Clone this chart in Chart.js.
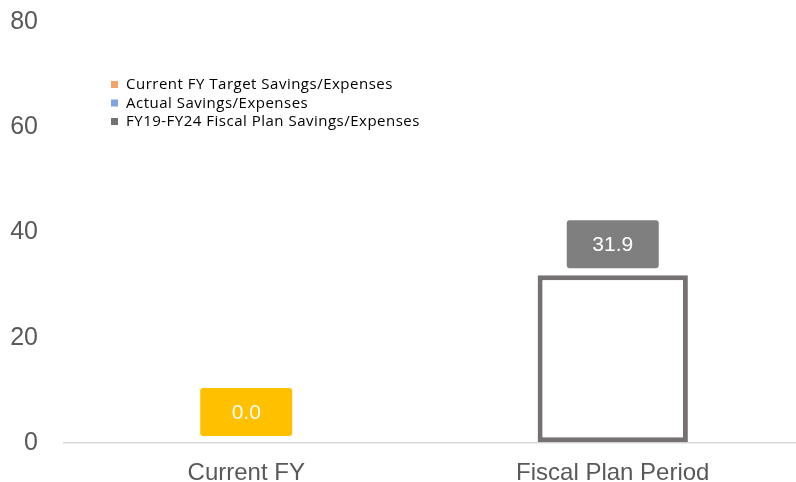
<!DOCTYPE html>
<html>
<head>
<meta charset="utf-8">
<script src="https://cdn.jsdelivr.net/npm/chart.js@4"></script>
<style>
  html, body { margin: 0; padding: 0; background: #fff; }
  #wrap { width: 796px; height: 482px; }
</style>
</head>
<body>
<div id="wrap"><canvas id="savings"></canvas></div>
<script>
const categories = ['Current FY', 'Fiscal Plan Period'];
const targetSavings = [null, null];
const actualSavings = [0.0, null];
const planSavings = [null, 31.9];
const yTicks = [0, 20, 40, 60, 80];

// box colours for the value labels, one per dataset
const labelBoxColors = ['#F4A46A', '#FFC000', '#7F7F7F'];

// legend drawn inside the plot, top left
const legendPlugin = {
    id: 'insideLegend',
    afterDraw(chart) {
        const ctx = chart.ctx;
        ctx.save();
        ctx.font = '15px "Open Sans"';
        ctx.letterSpacing = '0.5px';
        ctx.textBaseline = 'middle';
        chart.data.datasets.forEach((ds, i) => {
            const y = 85 + i * 18.5;
            ctx.fillStyle = ds.legendColor;
            ctx.fillRect(111, y - 4, 7, 7);
            ctx.fillStyle = '#000';
            ctx.fillText(ds.label, 126, y);
        });
        ctx.restore();
    }
};

// value labels in rounded boxes above the bars
const boxLabels = {
    id: 'boxLabels',
    afterDatasetsDraw(chart) {
        const ctx = chart.ctx;
        ctx.save();
        ctx.font = '21px "Liberation Sans", Arial';
        ctx.textAlign = 'center';
        ctx.textBaseline = 'middle';
        chart.data.datasets.forEach((ds, i) => {
            const meta = chart.getDatasetMeta(i);
            meta.data.forEach((bar, j) => {
                const v = ds.data[j];
                if (v === null || v === undefined) return;
                const w = 92, h = 48;
                const bottom = bar.y - 7;
                ctx.fillStyle = labelBoxColors[i];
                ctx.beginPath();
                ctx.roundRect(bar.x - w / 2, bottom - h, w, h, 3);
                ctx.fill();
                ctx.fillStyle = '#fff';
                ctx.fillText(v.toFixed(1), bar.x, bottom - h / 2 + 1);
            });
        });
        ctx.restore();
    }
};

new Chart(document.getElementById('savings'), {
    type: 'bar',
    data: {
        labels: categories,
        datasets: [
            {
                label: 'Current FY Target Savings/Expenses',
                data: targetSavings,
                legendColor: '#F4A46A',
                backgroundColor: '#F4A46A'
            },
            {
                label: 'Actual Savings/Expenses',
                data: actualSavings,
                legendColor: '#7FA5E0',
                backgroundColor: '#FFC000',
                borderWidth: 0
            },
            {
                label: 'FY19-FY24 Fiscal Plan Savings/Expenses',
                data: planSavings,
                legendColor: '#767171',
                backgroundColor: '#ffffff',
                borderColor: '#757171',
                borderWidth: 5,
                borderSkipped: false
            }
        ]
    },
    options: {
        responsive: true,
        maintainAspectRatio: false,
        animation: false,
        skipNull: true,
        layout: { padding: { left: 0, top: 22, right: 0, bottom: 0 } },
        datasets: { bar: { barPercentage: 0.41, categoryPercentage: 1 } },
        plugins: {
            legend: { display: false },
            tooltip: { enabled: false }
        },
        scales: {
            x: {
                afterFit(axis) {
                    axis.height = 39;
                    axis.paddingLeft = 0;
                    axis.paddingRight = 0;
                },
                grid: { display: false },
                border: { display: false },
                ticks: {
                    color: '#595959',
                    padding: 8,
                    font: { family: '"Liberation Sans", Arial', size: 24 }
                }
            },
            y: {
                min: 0,
                max: 80,
                afterBuildTicks(axis) {
                    axis.ticks = yTicks.map(v => ({ value: v }));
                },
                afterFit(axis) {
                    axis.width = 63;
                    axis.paddingTop = 0;
                    axis.paddingBottom = 0;
                },
                border: { display: false },
                grid: {
                    drawTicks: false,
                    lineWidth: 1.5,
                    color: c => c.tick && c.tick.value === 0 ? '#d9d9d9' : 'rgba(0,0,0,0)'
                },
                ticks: {
                    color: '#595959',
                    padding: 25,
                    font: { family: '"Liberation Sans", Arial', size: 25 }
                }
            }
        }
    },
    plugins: [legendPlugin, boxLabels]
});
</script>
</body>
</html>
